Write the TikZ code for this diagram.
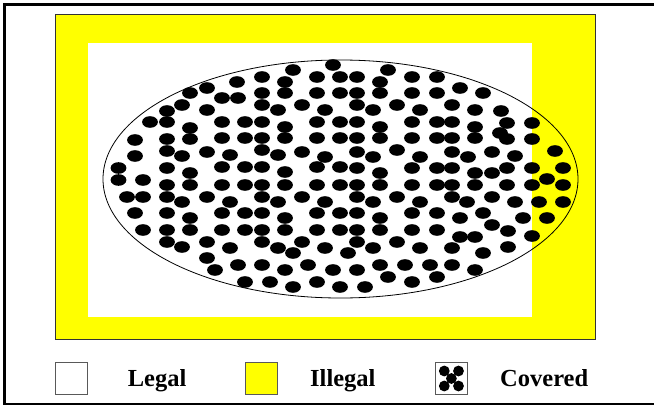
\documentclass[tikz,border=0pt]{standalone}
\usepackage{fontspec}
\setmainfont{Liberation Serif}
\definecolor{illegal}{RGB}{255,255,0}
\tikzset{
  dot/.style={fill=black},
  legendbox/.style={draw=black!65, line width=0.9pt},
  legendtext/.style={anchor=base west, inner sep=0pt, font=\fontsize{24.5}{28}\selectfont\bfseries}
}
\begin{document}
\begin{tikzpicture}[x=1pt,y=-1pt]
\useasboundingbox (0,0) rectangle (654,407);
\fill[white] (0,0) rectangle (654,407);
\draw[line width=2.3pt] (4.5,4.5) rectangle (670,404);
% field
\filldraw[fill=illegal, draw=black!80, line width=0.8pt] (55,14) rectangle (595,339);
\fill[white] (87.5,42.7) rectangle (531.7,316.7);
\draw[line width=0.8pt] (340.5,179) ellipse [x radius=237.5, y radius=119];
% dots
\foreach \px/\py in {
333/65,293/70,262/77,285/82,317/77,340/77,237/82,207/88,190/93,262/93,285/93,317/93,340/93,
222/98,238/98,182/105,262/105,302/105,167/111,207/110,278/110,325/110,
150/122,167/122,222/122,245/122,262/122,317/122,340/122,190/128,285/127,
135/140,167/139,190/139,222/138,245/138,262/138,285/138,317/138,340/138,
167/151,207/152,262/150,302/152,135/156,182/156,230/155,278/155,325/157,
118.5/168,167/168,222/167,245/167,262/167,317/167,340/167,190/173,285/172,
118.5/180,143/180,167/185,190/185,222/185,245/185,262/185,285/185,317/185,340/185,
127/197,143/197,167/197,207/197,262/197,302/197,182/202,230/202,278/202,325/202,
135/213,167/213,222/213,245/213,262/213,317/213,340/213,190/218,285/218,
143/230,167/230,190/230,222/230,245/230,262/230,285/230,317/230,340/230,
167/242,207/242,262/242,302/242,182/247,230/248,278/248,293/253,325/248,
207/258,215/270,238/265,262/265,285/270,308/265,333/270,
245/282,270/282,293/287,317/282,340/287,
388/70,357/77,412/77,437/77,380/82,460/88,
357/93,380/93,412/93,437/93,483/93,357/105,397/105,452/105,
373/110,420/110,475/110,501/111,
357/122,412/122,437/122,452/122,507/123,532/123,380/127,475/127,
357/138,380/138,412/138,437/138,452/138,475/138,500/133,507/139,532/139,
357/152,397/150,452/152,492/152,555/151,373/157,420/157,468/157,515/156,
357/168,412/168,437/168,452/168,507/168,532/168,563/168,
380/173,475/173,492/173,547/179,
357/185,380/185,412/185,437/185,452/185,475/185,507/185,532/185,563/185,
357/197,397/197,452/197,492/197,373/202,420/202,467/202,515/202,539/202,563/202,
357/213,412/213,437/213,483/213,380/218,460/218,523/218,547/218,
357/230,380/230,412/230,437/230,492/225,508/231,460/237,475/237,532/236,
357/242,397/242,373/248,420/248,452/248,508/247,348/253,483/253,
357/270,380/265,405/265,430/265,452/265,475/270,388/277,437/277,412/282,365/287}
  \fill[dot] (\px,\py) ellipse [x radius=7.9, y radius=5.8];
% legend
\draw[legendbox, fill=white] (55,362.7) rectangle (87.3,394.3);
\node[legendtext] (legal) at (127.7,386.7) {Legal};
\draw[legendbox, fill=illegal] (245.7,362.7) rectangle (277.7,394.3);
\node[legendtext] (illegal) at (310,386.7) {Illegal};
\draw[legendbox, fill=white] (435,362.7) rectangle (467,394.3);
\foreach \px/\py in {444.3/371,458.5/371,451.4/378.5,444.3/386,458.5/386}
  \fill[dot] (\px,\py) circle [radius=5.4];
\node[legendtext] (covered) at (500,386.7) {Covered};
\end{tikzpicture}
\end{document}
